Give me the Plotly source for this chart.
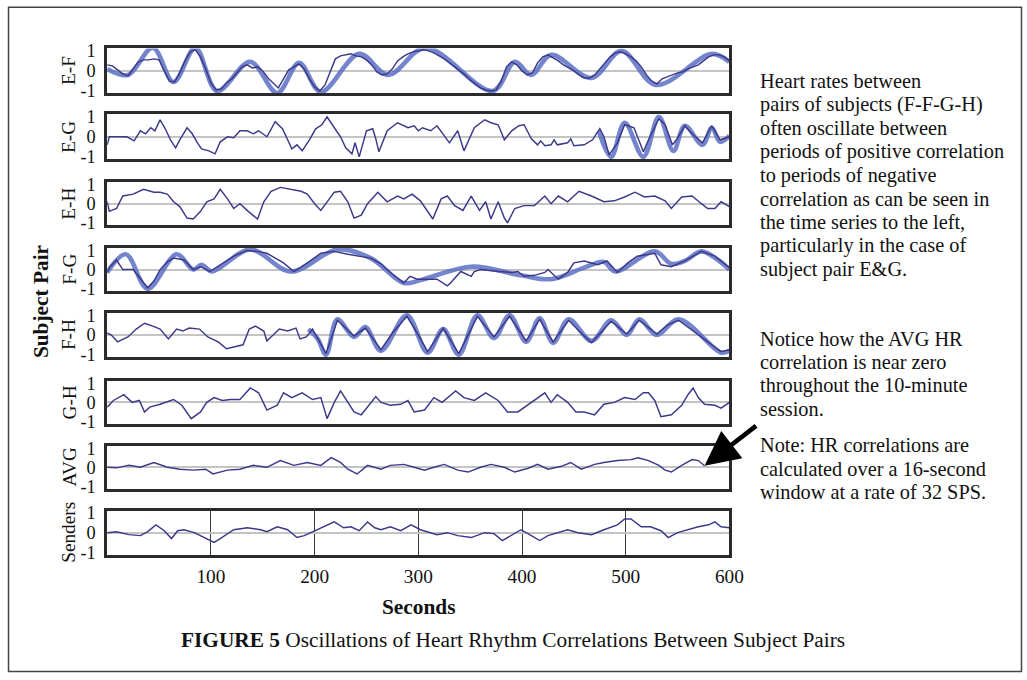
import plotly.graph_objects as go

# target picture size, and the size of the area the photo is taken of (found by measurement)
TW, TH = 1027, 680
W, H = 1043, 696
Y_A, Y_B = 0.98, 5.5   # measured: picture_row = Y_A * figure_row + Y_B
FS = W / TW            # font / width compensation for the photo's down-scaling
SERIF = "Liberation Serif, Times New Roman, serif"

PAIRS = ["E-F", "E-G", "E-H", "F-G", "F-H", "G-H", "AVG", "Senders"]
X_TICKS = [100, 200, 300, 400, 500, 600]
Y_TICKS = [-1, 0, 1]
Y_TICK_TEXT = ["-1", "0", "1"]

NOTE_1 = ["Heart rates between", "pairs of subjects (F-F-G-H)", "often oscillate between",
          "periods of positive correlation", "to periods of negative", "correlation as can be seen in",
          "the time series to the left,", "particularly in the case of", "subject pair E&amp;G."]
NOTE_2 = ["Notice how the AVG HR", "correlation is near zero", "throughout the 10-minute", "session."]
NOTE_3 = ["Note: HR correlations are", "calculated over a 16-second", "window at a rate of 32 SPS."]
CAPTION = "<b>FIGURE 5</b> Oscillations of Heart Rhythm Correlations Between Subject Pairs"

# ---- E-F ----
EF_T = list(range(0, 601, 5))
EF_V = [0.3, 0.25, 0.05, -0.15, -0.25, 0.1, 0.45, 0.55, 0.55, 0.6,
        0.55, 0.0, -0.5, -0.55, -0.1, 0.5, 0.95, 1.05, 0.7, 0.1,
        -0.6, -0.95, -0.9, -0.6, -0.4, -0.1, 0.2, 0.3, 0.15, 0.2,
        0.0, -0.35, -0.6, -0.85, -0.4, 0.05, 0.2, 0.35, 0.1, -0.4,
        -0.8, -1.0, -0.7, 0.0, 0.6, 0.75, 0.8, 0.85, 0.75, 0.7,
        0.55, 0.3, -0.05, -0.2, -0.15, 0.1, 0.5, 0.7, 0.85, 0.95,
        1.0, 1.05, 1.0, 0.9, 0.75, 0.6, 0.4, 0.2, 0.0, -0.2,
        -0.45, -0.65, -0.85, -0.95, -1.0, -0.95, -0.5, 0.2, 0.45, 0.3,
        0.0, -0.2, -0.1, 0.4, 0.7, 0.8, 0.65, 0.5, 0.3, 0.15,
        0.0, -0.2, -0.35, -0.35, -0.2, 0.1, 0.4, 0.7, 0.9, 0.95,
        0.85, 0.7, 0.5, 0.2, -0.2, -0.5, -0.65, -0.4, -0.3, -0.2,
        -0.1, -0.05, 0.1, 0.2, 0.3, 0.5, 0.7, 0.8, 0.8, 0.7,
        0.5]
EF_FIT_T = [0, 20, 44, 64, 85, 106, 138, 164, 185, 206, 243, 271, 307, 372, 393, 409, 428, 467, 496, 529, 583, 600]
EF_FIT_V = [0.1, -0.2, 1.15, -0.55, 1.15, -1.0, 0.45, -1.1, 0.4, -1.05, 0.85, -0.2, 1.15, -1.0, 0.45, -0.2, 0.8, -0.35, 1.0, -0.7, 0.85, 0.45]

# ---- E-G ----
EG_T = [0, 2, 9, 19, 26, 32, 37, 42, 46, 51, 56, 61, 66, 70, 77, 82, 87, 91, 98, 104,
        109, 116, 122, 128, 135, 141, 146, 154, 162, 169, 174, 178, 183, 188, 195, 201, 207, 212, 219, 225,
        230, 236, 239, 241, 243, 250, 256, 259, 262, 270, 280, 290, 296, 300, 304, 312, 318, 330, 338, 344,
        354, 364, 370, 377, 383, 390, 397, 402, 409, 415, 418, 422, 428, 431, 434, 444, 447, 450, 460, 468,
        475, 479, 484, 492, 499, 508, 517, 522, 532, 538, 545, 549, 557, 564, 574, 583, 591, 600]
EG_V = [-0.4, 0.0, 0.0, 0.0, -0.2, 0.3, 0.15, 0.45, 0.3, 0.85, 0.4, -0.15, -0.55, -0.15, 0.45, 0.15, -0.3, -0.6, -0.7, -0.85,
        -0.25, 0.0, -0.05, 0.3, 0.3, 0.15, 0.3, 0.0, 0.75, 0.4, -0.15, -0.6, -0.4, -0.7, -0.15, 0.4, 0.6, 1.0, 0.45, 0.0,
        -0.55, -0.85, -0.3, -0.6, -1.0, 0.3, 0.4, -0.1, -0.75, 0.3, 0.7, 0.45, 0.55, 0.3, 0.45, 0.3, 0.55, -0.3, 0.3, -0.7,
        0.45, 0.85, 0.7, 0.6, -0.15, 0.3, 0.55, 0.6, -0.1, -0.4, -0.2, -0.45, -0.4, -0.15, -0.4, -0.3, -0.1, -0.45, -0.4, -0.15,
        0.4, 0.0, -0.9, -0.3, 0.6, 0.45, -0.75, -0.15, 0.9, 0.6, -0.4, -0.15, 0.55, 0.15, -0.3, 0.55, -0.15, 0.0]
EG_FIT_T = [474, 486, 499, 517, 532, 546, 557, 574, 583, 591, 600]
EG_FIT_V = [0.3, -1.0, 0.7, -1.0, 1.0, -0.7, 0.55, -0.4, 0.45, -0.25, 0.05]

# ---- E-H ----
EH_T = [0, 2, 9, 15, 25, 35, 45, 51, 58, 64, 70, 77, 83, 90, 96, 103, 109, 116, 122, 128,
        136, 145, 151, 158, 167, 177, 187, 193, 200, 206, 212, 219, 225, 232, 238, 245, 251, 256, 261, 270,
        280, 286, 294, 302, 314, 322, 328, 335, 343, 351, 359, 365, 370, 377, 383, 386, 393, 402, 412, 422,
        428, 435, 444, 455, 467, 479, 489, 499, 509, 518, 528, 538, 544, 554, 564, 573, 579, 586, 592, 600]
EH_V = [0.1, -0.4, -0.25, 0.4, 0.5, 0.75, 0.6, 0.6, 0.5, 0.1, -0.15, -0.75, -0.8, -0.4, 0.1, 0.25, 0.75, 0.25, -0.25, 0.0,
        -0.4, -0.8, 0.1, 0.65, 0.85, 0.75, 0.65, 0.5, 0.0, -0.35, 0.1, 0.6, 0.65, 0.1, -0.75, -0.6, 0.0, 0.3, 0.6, 0.1,
        0.4, 0.25, 0.5, 0.15, -0.8, 0.25, 0.4, -0.1, -0.35, 0.4, -0.35, 0.1, -0.8, 0.1, -0.75, -1.0, -0.25, -0.1, -0.1, 0.4,
        0.0, 0.4, 0.1, 0.65, 0.4, 0.1, 0.15, 0.35, 0.6, 0.35, 0.4, 0.15, -0.25, 0.35, 0.4, 0.0, -0.25, -0.25, 0.1, -0.15]

# ---- F-G ----
FG_T = [0, 2, 9, 15, 25, 32, 39, 45, 51, 58, 64, 74, 83, 90, 99, 109, 122, 135, 145, 154,
        162, 170, 180, 193, 206, 219, 232, 245, 254, 264, 273, 286, 292, 299, 308, 318, 328, 331, 341, 351,
        354, 360, 377, 390, 396, 402, 412, 422, 425, 435, 444, 450, 460, 473, 482, 492, 502, 511, 528, 534,
        544, 557, 573, 586, 600]
FG_V = [-0.15, 0.1, 0.5, 0.0, 0.0, -0.5, -0.95, -0.6, 0.0, 0.4, 0.6, 0.5, 0.0, 0.15, -0.1, 0.25, 0.7, 1.0, 0.95, 0.85,
        0.6, 0.35, -0.1, 0.35, 0.85, 0.95, 0.8, 0.7, 0.6, 0.3, -0.15, -0.7, -0.35, -0.5, -0.5, -0.5, -0.85, -0.7, -0.1, -0.35,
        -0.1, 0.0, -0.1, -0.15, -0.1, -0.35, -0.3, -0.15, 0.0, -0.5, -0.15, 0.35, 0.45, 0.25, 0.45, -0.15, 0.35, 0.7, 0.85, 0.25,
        0.15, 0.45, 0.95, 0.7, 0.1]
FG_FIT_T = [0, 18, 39, 67, 83, 91, 101, 138, 177, 222, 254, 286, 302, 351, 399, 428, 460, 479, 490, 528, 544, 557, 573, 589, 600]
FG_FIT_V = [-0.15, 0.8, -1.0, 0.8, 0.0, 0.25, -0.1, 1.05, -0.1, 1.05, 0.6, -0.7, -0.55, 0.15, -0.3, -0.5, 0.1, 0.4, -0.1, 0.95, 0.3, 0.45, 0.95, 0.5, 0.0]

# ---- F-H ----
FH_T = [0, 4, 10, 20, 28, 36, 44, 51, 59, 67, 73, 79, 89, 97, 107, 115, 123, 131, 137, 143,
        151, 154, 160, 166, 174, 182, 186, 192, 198, 203, 211, 222, 238, 249, 264, 275, 289, 300, 309, 324,
        339, 357, 373, 388, 404, 417, 430, 445, 455, 467, 486, 501, 513, 530, 540, 551, 570, 592, 600]
FH_V = [0.1, 0.0, -0.35, -0.1, 0.3, 0.6, 0.45, 0.3, -0.2, 0.3, 0.2, 0.35, 0.3, -0.1, -0.35, -0.7, -0.6, -0.5, 0.3, 0.45,
        0.2, -0.3, 0.0, 0.3, 0.2, 0.35, -0.2, -0.1, 0.3, -0.2, -0.95, 0.75, -0.05, 0.35, -0.75, 0.1, 0.95, 0.0, -0.85, 0.35,
        -0.95, 0.95, -0.1, 0.95, -0.3, 0.8, -0.35, 0.75, 0.2, -0.4, 0.7, 0.05, 0.75, 0.05, 0.5, 0.75, 0.0, -0.85, -0.75]
FH_FIT_T = [194, 203, 211, 222, 238, 249, 264, 289, 309, 324, 339, 357, 373, 388, 404, 417, 430, 445, 467, 486, 501, 513, 530, 551, 592, 600]
FH_FIT_V = [0.3, -0.2, -1.0, 0.8, -0.1, 0.4, -0.8, 1.0, -0.9, 0.3, -1.0, 1.0, -0.15, 1.0, -0.35, 0.85, -0.4, 0.8, -0.3, 0.75, 0.0, 0.8, 0.0, 0.8, -0.9, -0.8]

# ---- G-H ----
GH_T = [0, 6, 16, 24, 31, 36, 41, 51, 64, 72, 81, 90, 96, 103, 111, 119, 128, 138, 146, 154,
        164, 170, 178, 188, 198, 206, 212, 219, 225, 232, 238, 245, 254, 259, 264, 273, 283, 290, 296, 306,
        315, 323, 336, 344, 354, 365, 377, 386, 396, 406, 415, 422, 428, 434, 444, 452, 460, 470, 479, 489,
        499, 509, 517, 522, 528, 534, 544, 554, 560, 565, 570, 576, 586, 592, 600]
GH_V = [-0.25, 0.1, 0.4, 0.0, 0.1, -0.5, -0.25, -0.1, 0.15, -0.15, -0.85, -0.5, 0.0, 0.25, 0.1, 0.15, 0.15, 0.75, 0.5, -0.4,
        -0.15, 0.5, 0.25, 0.5, 0.15, 0.25, -0.85, 0.0, 0.6, 0.0, -0.5, -0.65, 0.0, 0.3, 0.0, -0.15, -0.1, 0.1, -0.5, -0.4,
        0.25, 0.0, 0.6, 0.25, 0.1, 0.5, 0.1, -0.5, -0.5, -0.1, 0.25, 0.5, 0.0, 0.4, 0.0, -0.5, -0.5, -0.65, -0.1, 0.0,
        0.25, 0.15, 0.5, 0.5, 0.1, -0.75, -0.65, -0.15, 0.4, 0.75, 0.25, -0.1, -0.15, -0.3, 0.0]

# ---- AVG ----
AVG_T = [0, 9, 21, 32, 45, 58, 70, 83, 95, 102, 116, 128, 141, 154, 167, 180, 193, 206, 216, 225,
         232, 241, 251, 264, 273, 286, 296, 306, 315, 325, 338, 348, 360, 370, 383, 393, 406, 415, 425, 438,
         447, 457, 470, 479, 492, 505, 512, 522, 532, 538, 544, 554, 564, 570, 576]
AVG_V = [0.0, -0.03, 0.1, 0.0, 0.25, 0.0, -0.1, -0.15, -0.1, -0.35, -0.15, -0.1, 0.1, 0.0, 0.35, 0.1, 0.25, 0.1, 0.5, 0.25,
         -0.1, -0.35, 0.1, -0.1, 0.1, 0.15, 0.0, -0.15, 0.0, 0.15, -0.15, -0.25, 0.0, 0.15, 0.0, -0.25, -0.05, 0.15, -0.1, 0.05,
         0.25, -0.1, 0.15, 0.25, 0.35, 0.4, 0.5, 0.35, 0.1, -0.15, -0.25, 0.1, 0.4, 0.35, 0.08]

# ---- Senders ----
SND_T = [0, 9, 21, 32, 39, 47, 55, 62, 68, 74, 84, 95, 103, 109, 122, 135, 148, 154, 164, 174,
         183, 190, 200, 209, 219, 228, 235, 243, 251, 258, 264, 273, 283, 293, 302, 318, 328, 338, 351, 364,
         373, 381, 389, 399, 409, 417, 425, 434, 444, 454, 467, 479, 492, 499, 505, 515, 524, 534, 541, 550,
         560, 570, 580, 586, 592, 600]
SND_V = [0.0, 0.05, -0.1, -0.15, 0.05, 0.4, 0.1, -0.3, 0.1, 0.15, 0.0, -0.3, -0.5, -0.3, 0.15, 0.25, 0.15, 0.05, 0.3, 0.15,
         -0.25, -0.15, 0.1, 0.3, 0.55, 0.25, 0.3, 0.1, 0.55, 0.25, 0.15, 0.3, 0.1, 0.4, 0.15, -0.1, 0.0, -0.15, -0.25, 0.0,
         -0.05, -0.4, -0.15, 0.15, -0.15, -0.4, -0.15, 0.0, 0.15, 0.0, -0.1, 0.15, 0.4, 0.7, 0.7, 0.3, 0.3, 0.1, -0.25, 0.0,
         0.15, 0.3, 0.4, 0.55, 0.3, 0.25]

THIN = [(EF_T, EF_V), (EG_T, EG_V), (EH_T, EH_V), (FG_T, FG_V), (FH_T, FH_V), (GH_T, GH_V), (AVG_T, AVG_V), (SND_T, SND_V)]
FITS = {0: (EF_FIT_T, EF_FIT_V), 1: (EG_FIT_T, EG_FIT_V), 3: (FG_FIT_T, FG_FIT_V), 4: (FH_FIT_T, FH_FIT_V)}

# layout geometry (picture pixels)
PX_L, PX_R = 107, 728
TOPS = [47, 113, 181, 247, 312, 380, 445, 510]
BOTS = [92, 158, 224, 290, 356, 423, 488, 554]

THIN_COLOR = "#3b3889"
FIT_COLOR = "rgba(92,112,198,0.85)"
TXT = "#111"


def px(x):
    return x / TW


def py(y):
    return 1 - (y - Y_B) / (Y_A * H)


def fs(s):
    return round(s * FS, 2)


fig = go.Figure()
layout = dict(width=W, height=H, margin=dict(l=0, r=0, t=0, b=0),
              paper_bgcolor="white", plot_bgcolor="white", showlegend=False,
              font=dict(family=SERIF, color=TXT))
annotations = []
for i in range(8):
    n = "" if i == 0 else str(i + 1)
    xa, ya = "x" + n, "y" + n
    if i in FITS:
        ft, fv = FITS[i]
        fig.add_trace(go.Scatter(x=ft, y=fv, mode="lines", xaxis=xa, yaxis=ya,
                                 line=dict(color=FIT_COLOR, width=4.6, shape="spline", smoothing=1.0),
                                 hoverinfo="skip"))
    t, v = THIN[i]
    fig.add_trace(go.Scatter(x=t, y=v, mode="lines", xaxis=xa, yaxis=ya,
                             line=dict(color=THIN_COLOR, width=1.45)))
    last = (i == 7)
    layout["xaxis" + n] = dict(domain=[px(PX_L), px(PX_R)], anchor=ya, range=[0, 600],
                               showline=True, mirror=True, linewidth=2.6, linecolor="#2b2b2b",
                               zeroline=False, showgrid=last, gridcolor="#3a3a3a", gridwidth=1.3,
                               tickvals=X_TICKS if last else [], showticklabels=last,
                               ticks="outside" if last else "", ticklen=2, tickcolor="rgba(0,0,0,0)",
                               tickfont=dict(family=SERIF, size=fs(19), color=TXT))
    layout["yaxis" + n] = dict(domain=[py(BOTS[i]), py(TOPS[i])], anchor=xa, range=[-1.12, 1.12],
                               showline=True, mirror=True, linewidth=2.6, linecolor="#2b2b2b",
                               showgrid=False, zeroline=True, zerolinecolor="#c4c4c4", zerolinewidth=1.5,
                               tickvals=Y_TICKS, ticktext=Y_TICK_TEXT, ticks="outside", ticklen=5,
                               tickcolor="rgba(0,0,0,0)",
                               tickfont=dict(family=SERIF, size=fs(18), color=TXT))
    annotations.append(dict(x=px(69), y=py((TOPS[i] + BOTS[i]) / 2), xref="paper", yref="paper",
                            text=PAIRS[i], textangle=-90, showarrow=False,
                            font=dict(family=SERIF, size=fs(19), color=TXT),
                            xanchor="center", yanchor="middle"))

annotations += [
    dict(x=px(41), y=py(300), xref="paper", yref="paper", text="<b>Subject Pair</b>", textangle=-90,
         xanchor="center", yanchor="middle",
         showarrow=False, font=dict(family=SERIF, size=fs(21), color=TXT)),
    dict(x=px(418), y=py(606), xref="paper", yref="paper", text="<b>Seconds</b>",
         xanchor="center", yanchor="middle",
         showarrow=False, font=dict(family=SERIF, size=fs(21), color=TXT)),
    dict(x=px(512), y=py(640), xref="paper", yref="paper", text=CAPTION,
         xanchor="center", yanchor="middle",
         showarrow=False, font=dict(family=SERIF, size=fs(21), color=TXT)),
]
for lines, y0 in ((NOTE_1, 80), (NOTE_2, 338), (NOTE_3, 444.5)):
    for k, line in enumerate(lines):
        annotations.append(dict(x=px(757), y=py(y0 + 23.5 * k), xref="paper", yref="paper",
                                xanchor="left", yanchor="middle", align="left", text=line,
                                showarrow=False, font=dict(family=SERIF, size=fs(20), color=TXT)))
annotations.append(dict(x=576, y=0.08, xref="x7", yref="y7", text="", showarrow=True,
                        ax=53, ay=-41, axref="pixel", ayref="pixel",
                        arrowhead=2, arrowsize=1.5, arrowwidth=4.6, arrowcolor="#000"))
layout["annotations"] = annotations
layout["shapes"] = [dict(type="rect", xref="paper", yref="paper",
                         x0=px(8.5), x1=px(1019.5), y0=py(671), y1=0.9995,
                         line=dict(color="#444", width=1.5), fillcolor="rgba(0,0,0,0)", layer="below")]
fig.update_layout(**layout)

# pin the chart to the window's top-left corner so the page never scrolls
PIN = ("document.documentElement.style.margin='0';document.documentElement.style.overflow='hidden';"
       "document.body.style.margin='0';document.body.style.overflow='hidden';"
       "var gd=document.getElementById('{plot_id}');"
       "gd.style.position='fixed';gd.style.left='0px';gd.style.top='0px';")
fig.write_html("out.html", config={"displayModeBar": False}, post_script=PIN)
